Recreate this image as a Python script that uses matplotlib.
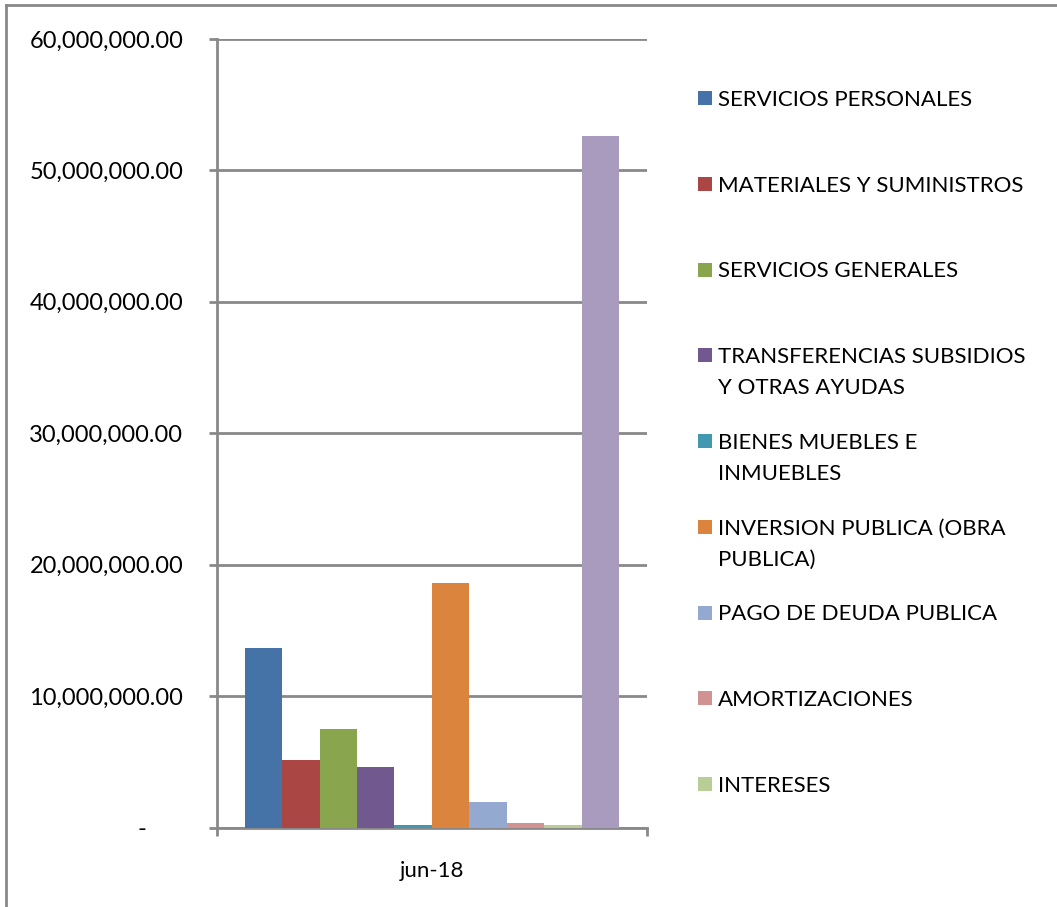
import matplotlib
matplotlib.use("Agg")
import matplotlib.pyplot as plt
from matplotlib.lines import Line2D
from matplotlib.patches import Rectangle
from matplotlib.ticker import FuncFormatter, FixedLocator
import numpy as np

plt.rcParams['font.family'] = ['Lato', 'DejaVu Sans']

# data (single period: jun-18)
category = "jun-18"
series_names = [
    "SERVICIOS PERSONALES",
    "MATERIALES Y SUMINISTROS",
    "SERVICIOS GENERALES",
    "TRANSFERENCIAS SUBSIDIOS\nY OTRAS AYUDAS",
    "BIENES MUEBLES E\nINMUEBLES",
    "INVERSION PUBLICA (OBRA\nPUBLICA)",
    "PAGO DE DEUDA PUBLICA",
    "AMORTIZACIONES",
    "INTERESES",
]
series_values = [13650000, 5130000, 7490000, 4600000, 180000,
                 18580000, 1930000, 330000, 170000]
# tenth series has no visible legend entry
extra_value = 52600000

colors = ["#4572A7", "#AA4643", "#89A54E", "#71588F", "#4198AF",
          "#DB843D", "#93A9CF", "#D19392", "#B9CD96", "#A99BBD"]

W, H = 1057, 907
fig = plt.figure(figsize=(W / 100, H / 100), dpi=100)
ax = fig.add_axes([216.7 / W, 1 - 827.5 / H, (647 - 216.7) / W, (827.5 - 39) / H])

values = series_values + [extra_value]
n = len(values)
bw = 1.0 / (n + 1.5)
x0 = -0.5 + 0.75 * bw
for i, v in enumerate(values):
    ax.bar(x0 + i * bw, v, width=bw, align='edge', color=colors[i], linewidth=0, zorder=3)

ax.set_xlim(-0.5, 0.5)
ax.set_ylim(0, 60000000)
ax.yaxis.set_major_locator(FixedLocator(np.arange(0, 60000001, 10000000)))

def fmt(v, pos):
    if v == 0:
        return "-      "
    return "{:,.2f}".format(v)

ax.yaxis.set_major_formatter(FuncFormatter(fmt))
ax.grid(axis='y', color='#898989', linewidth=2, zorder=1)
ax.set_xticks([0])
ax.set_xticklabels([category])
ax.set_xticks([-0.5, 0.5], minor=True)
ax.tick_params(axis='x', which='major', length=0, pad=24, labelsize=16)
ax.tick_params(axis='x', which='minor', length=6, width=2, color='#898989', direction='out')
ax.tick_params(axis='y', length=6, width=2, color='#898989', direction='out', pad=18, labelsize=17)
for s in ['top', 'right']:
    ax.spines[s].set_visible(False)
for s in ['left', 'bottom']:
    ax.spines[s].set_color('#898989')
    ax.spines[s].set_linewidth(2)

# legend: Excel-style equal slots, marker aligned with the first line
slot0, step = 98, 85.75
for i, name in enumerate(series_names):
    yc = slot0 + i * step
    fig.add_artist(Rectangle((698 / W, 1 - (yc + 7) / H), 14 / W, 14 / H,
                             transform=fig.transFigure, color=colors[i], linewidth=0))
    for k, line in enumerate(name.split("\n")):
        fig.text(718 / W, 1 - (yc + k * 31) / H, line, fontsize=16,
                 va='center_baseline', ha='left')

# outer chart border (left and top visible)
fig.add_artist(Line2D([6 / W, 6 / W], [0, 1 - 5 / H], color='#898989', linewidth=2))
fig.add_artist(Line2D([6 / W, 1], [1 - 5 / H, 1 - 5 / H], color='#898989', linewidth=2))

fig.savefig("out.png", dpi=100)
